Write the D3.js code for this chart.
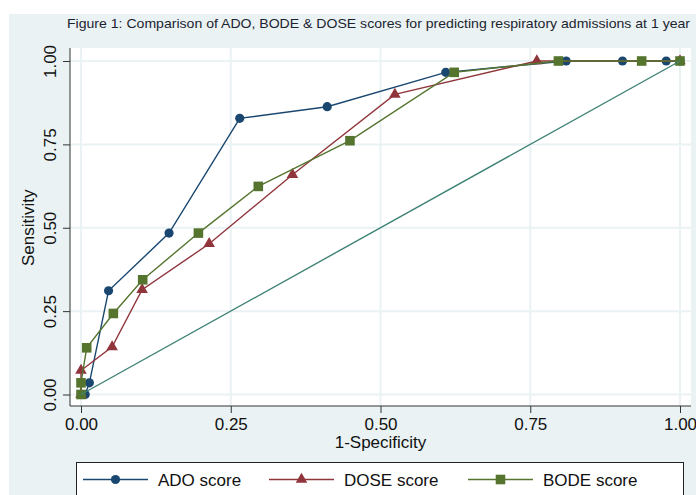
<!DOCTYPE html>
<html>
<head>
<meta charset="utf-8">
<script src="https://cdn.jsdelivr.net/npm/d3@7"></script>
<style>
  body { margin: 0; background: #fff; }
  svg { display: block; font-family: "Liberation Sans", Arial, sans-serif; }
</style>
</head>
<body>
<svg id="chart" width="696" height="495"></svg>
<script>
// ROC points
var adoX  = [0.007, 0.014, 0.046, 0.147, 0.265, 0.411, 0.609, 0.810, 0.904, 0.977, 1.000];
var adoY  = [0.000, 0.035, 0.311, 0.484, 0.828, 0.863, 0.966, 1.000, 1.000, 1.000, 1.000];
var doseX = [0.000, 0.000, 0.052, 0.102, 0.214, 0.353, 0.524, 0.761, 1.000];
var doseY = [0.000, 0.072, 0.143, 0.314, 0.452, 0.659, 0.900, 1.000, 1.000];
var bodeX = [0.000, 0.000, 0.0095, 0.054, 0.103, 0.196, 0.296, 0.449, 0.623, 0.797, 0.936, 1.000];
var bodeY = [0.000, 0.035, 0.140, 0.243, 0.344, 0.484, 0.624, 0.761, 0.966, 1.000, 1.000, 1.000];
var refX  = [0, 1];
var refY  = [0, 1];

var tickVals = [0, 0.25, 0.5, 0.75, 1];
var seriesNames = ["ADO score", "DOSE score", "BODE score"];
var titleText = "Figure 1: Comparison of ADO, BODE & DOSE scores for predicting respiratory admissions at 1 year";

var col = {
    bg : "#eaf2f3",
    ado : "#1a476f",
    dose : "#90353b",
    bode : "#55752f",
    ref : "#3f8275"
};

var svg = d3.select("#chart");

// outer panel
svg.append("rect").attr("x", 9).attr("y", 14).attr("width", 687).attr("height", 481)
    .attr("fill", col.bg);

// plot region
var box = { left : 70, right : 691, top : 48, bottom : 406 };
svg.append("rect").attr("x", box.left).attr("y", box.top)
    .attr("width", box.right - box.left).attr("height", box.bottom - box.top)
    .attr("fill", "#fff");

var x = d3.scaleLinear().domain([0, 1]).range([81, 680]);
var y = d3.scaleLinear().domain([0, 1]).range([394.5, 61]);

// grid
var grid = svg.append("g");
tickVals.forEach(function(t) {
    grid.append("line").attr("x1", box.left).attr("x2", box.right)
        .attr("y1", y(t)).attr("y2", y(t))
        .attr("stroke", col.bg).attr("stroke-width", 2);
    grid.append("line").attr("y1", box.top).attr("y2", box.bottom)
        .attr("x1", x(t)).attr("x2", x(t))
        .attr("stroke", col.bg).attr("stroke-width", 2);
});

// axes
var xAxis = svg.append("g").attr("transform", "translate(0," + box.bottom + ")")
    .call(d3.axisBottom(x).tickValues(tickVals).tickFormat(d3.format(".2f")).tickSize(7).tickPadding(5));
var yAxis = svg.append("g").attr("transform", "translate(" + box.left + ",0)")
    .call(d3.axisLeft(y).tickValues(tickVals).tickFormat(d3.format(".2f")).tickSize(7));

[xAxis, yAxis].forEach(function(a) {
    a.select(".domain").remove();
    a.selectAll(".tick line").attr("stroke", "#333");
    a.selectAll("text").attr("fill", "#111").style("font-size", "17px")
        .style("font-family", "'Liberation Sans', Arial, sans-serif");
});
yAxis.selectAll(".tick text")
    .attr("transform", "rotate(-90)")
    .attr("x", 0).attr("y", -14)
    .attr("dy", 0)
    .attr("text-anchor", "middle");

svg.append("line").attr("x1", box.left).attr("x2", box.right)
    .attr("y1", box.bottom).attr("y2", box.bottom).attr("stroke", "#333");
svg.append("line").attr("x1", box.left).attr("x2", box.left)
    .attr("y1", box.top).attr("y2", box.bottom).attr("stroke", "#333");

// axis titles
svg.append("text").attr("x", (x(0) + x(1)) / 2).attr("y", 448)
    .attr("text-anchor", "middle").style("font-size", "17px").attr("fill", "#111")
    .text("1-Specificity");
svg.append("text").attr("transform", "translate(34," + (y(0) + y(1)) / 2 + ") rotate(-90)")
    .attr("text-anchor", "middle").style("font-size", "17px").attr("fill", "#111")
    .text("Sensitivity");

// title
svg.append("text").attr("x", 67).attr("y", 28)
    .style("font-size", "13px").attr("fill", "#1c2430")
    .attr("textLength", 623).attr("lengthAdjust", "spacingAndGlyphs")
    .text(titleText);

// series
var line = d3.line().x(function(d) { return x(d[0]); }).y(function(d) { return y(d[1]); });

function drawSeries(xs, ys, color, sym, size) {
    var pts = d3.zip(xs, ys);
    var g = svg.append("g");
    g.append("path").datum(pts).attr("d", line)
        .attr("fill", "none").attr("stroke", color).attr("stroke-width", 1.4);
    g.selectAll("path.mk").data(pts).enter().append("path")
        .attr("class", "mk")
        .attr("d", d3.symbol().type(sym).size(size))
        .attr("transform", function(d) { return "translate(" + x(d[0]) + "," + y(d[1]) + ")"; })
        .attr("fill", color);
}

drawSeries(adoX, adoY, col.ado, d3.symbolCircle, 66);
drawSeries(doseX, doseY, col.dose, d3.symbolTriangle, 58);
drawSeries(bodeX, bodeY, col.bode, d3.symbolSquare, 92);

svg.append("path").datum(d3.zip(refX, refY)).attr("d", line)
    .attr("fill", "none").attr("stroke", col.ref).attr("stroke-width", 1.4);

// legend
svg.append("rect").attr("x", 76.5).attr("y", 462.5).attr("width", 607).attr("height", 50)
    .attr("fill", "#fff").attr("stroke", "#222");

var legendItems = [
    { name : seriesNames[0], color : col.ado, sym : d3.symbolCircle, size : 66, x0 : 83 },
    { name : seriesNames[1], color : col.dose, sym : d3.symbolTriangle, size : 58, x0 : 269 },
    { name : seriesNames[2], color : col.bode, sym : d3.symbolSquare, size : 92, x0 : 468 }
];
var lg = svg.append("g").selectAll("g").data(legendItems).enter().append("g")
    .attr("transform", function(d) { return "translate(" + d.x0 + ",479.5)"; });
lg.append("line").attr("x1", 0).attr("x2", 65)
    .attr("stroke", function(d) { return d.color; }).attr("stroke-width", 1.4);
lg.append("path").attr("transform", "translate(32.5,0)")
    .attr("d", function(d) { return d3.symbol().type(d.sym).size(d.size)(); })
    .attr("fill", function(d) { return d.color; });
lg.append("text").attr("x", 75).attr("y", 6.5)
    .style("font-size", "17px").attr("fill", "#111")
    .text(function(d) { return d.name; });
</script>
</body>
</html>
